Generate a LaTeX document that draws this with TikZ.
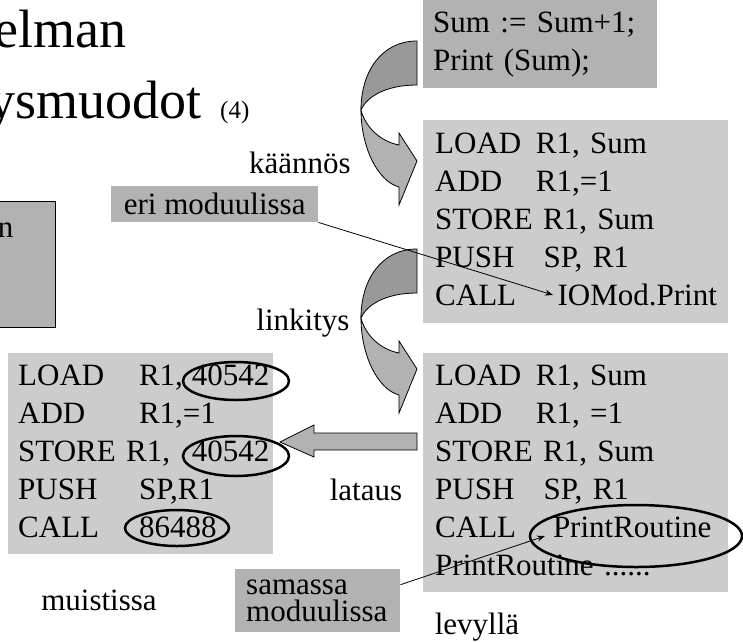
\documentclass[tikz,border=0pt]{standalone}
\usepackage{fontspec}
\setmainfont{Liberation Serif}
\usetikzlibrary{arrows.meta}
\definecolor{codegray}{gray}{0.8}
\definecolor{boxgray}{gray}{0.7}
\definecolor{bendgray}{gray}{0.6}
\newcommand\op[3][3.25em]{\makebox[#1][l]{#2}#3}
\newcommand\txt{\fontsize{31}{38}\selectfont}
\tikzset{
	codebox/.style 2 args={fill=codegray,anchor=north west,align=left,inner xsep=12pt,inner ysep=0pt,text width=#1,minimum height=#2,font=\txt},
	tagbox/.style={fill=boxgray,anchor=north west,inner sep=0pt,font=\txt},
	lbl/.style={anchor=base,inner sep=0pt,font=\txt},
	ttl/.style={anchor=base east,inner sep=0pt,font=\fontsize{54}{60}\selectfont},
	ring/.style={line width=2.5pt},
	link/.style={-{Stealth[length=8pt,width=6pt]},line width=0.8pt},
	bendarrow/.pic={
		\filldraw[fill=bendgray,line width=0.8pt] (0,0) .. controls (-35,0) and (-56,30) .. (-56,69) .. controls (-50,55) and (-30,44) .. (0,44) -- cycle;
		\filldraw[fill=boxgray,line width=0.8pt] (-56,69) .. controls (-52,85) and (-38,100) .. (-18,104) -- (-18,92) -- (0,120) -- (-18,164) -- (-18,146) .. controls (-40,140) and (-56,105) .. (-56,69) -- cycle;
	}
}

\begin{document}
\begin{tikzpicture}[x=1pt,y=-1pt]
	\useasboundingbox (0,0) rectangle (743,641);
	\clip (0,0) rectangle (743,641);

	\node [ttl] (ttla) at (127,47) {elman};
	\node [ttl] (ttlb) at (202,118) {ysmuodot};
	\node [anchor=base west,inner sep=0pt,font=\fontsize{25}{30}\selectfont] (ttlnum) at (220,118) {(4)};

	\node [draw,fill=boxgray,line width=1.2pt,anchor=north east,minimum width=100pt,minimum height=126pt] (prev) at (56,201) {};
	\node [lbl,anchor=base east] (prevtxt) at (13.5,237) {n};

	\node [codebox={214pt}{88pt},inner xsep=10pt,fill=boxgray] (src) at (423,0) {\strut Sum := Sum+1;\\\strut Print (Sum);};
	\node [codebox={281pt}{203pt}] (obj) at (423,120) {\strut\op{LOAD}{R1, Sum}\\\strut\op{ADD}{R1,=1}\\\strut STORE R1, Sum\\\strut\op[3.5em]{PUSH}{SP, R1}\\\strut\op[3.95em]{CALL}{IOMod.Print}};
	\node [codebox={281pt}{239pt}] (exe) at (423,353) {\strut\op{LOAD}{R1, Sum}\\\strut\op{ADD}{R1, =1}\\\strut STORE R1, Sum\\\strut\op[3.5em]{PUSH}{SP, R1}\\\strut\op[3.8em]{CALL}{PrintRoutine}\\\strut PrintRoutine ......};
	\node [codebox={245pt}{201pt},inner xsep=10pt] (mem) at (8,353) {\strut\op[5.6em]{\op[3.9em]{LOAD}{R1,}}{40542}\\\strut\op[3.9em]{ADD}{R1,=1}\\\strut\op[5.6em]{STORE R1,}{40542}\\\strut\op[3.9em]{PUSH}{SP,R1}\\\strut\op[3.9em]{CALL}{86488}};

	\node [tagbox,minimum width=207pt,minimum height=36pt] (eri) at (111,186) {eri moduulissa};
	\node [tagbox,align=left,inner xsep=11pt,text width=143pt,minimum height=63pt,font=\fontsize{31}{27}\selectfont] (sam) at (235,569) {samassa\\moduulissa};

	\node [lbl] (kaan) at (300,173) {käännös};
	\node [lbl] (link) at (303,330) {linkitys};
	\node [lbl] (lat) at (366,500) {lataus};
	\node [lbl] (muis) at (99,610) {muistissa};
	\node [lbl] (levy) at (477,634) {levyllä};

	\pic at (417,41) {bendarrow};
	\pic at (417,249) {bendarrow};
	\filldraw [fill=boxgray,line width=0.8pt] (417,433) -- (417,450) -- (314,450) -- (314,457) -- (280,442) -- (314,425) -- (314,433) -- cycle;

	\draw [ring] (236,381) ellipse (53pt and 19pt);
	\draw [ring] (236,456) ellipse (53pt and 20pt);
	\draw [ring] (177,528) ellipse (52pt and 18pt);
	\draw [ring] (636,536) ellipse (106pt and 31pt);

	\coordinate (iomod) at (553,295);
	\coordinate (proutine) at (545,536);
	\draw [link] (eri.south east) -- (iomod);
	\draw [link] ([yshift=16pt]sam.east) -- (proutine);
\end{tikzpicture}
\end{document}
